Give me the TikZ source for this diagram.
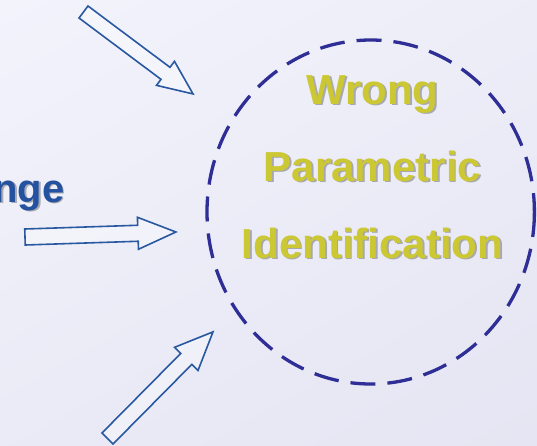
\documentclass[tikz,border=0pt]{standalone}
\usepackage{fontspec}
\setmainfont{Liberation Sans}
\usetikzlibrary{shadings}
\begin{document}
\definecolor{bgA}{RGB}{243,243,252}
\definecolor{bgB}{RGB}{229,229,243}
\definecolor{arrowblue}{RGB}{40,88,160}
\definecolor{ringblue}{RGB}{46,46,150}
\definecolor{olivetext}{RGB}{204,200,52}
\definecolor{labelblue}{RGB}{36,82,160}
\definecolor{textshade}{RGB}{168,168,176}
\tikzset{
  blockarrow/.style={draw=arrowblue, line width=1.6pt, line join=miter, fill=white, fill opacity=0.3},
  ring/.style={draw=ringblue, line width=3.3pt, dash pattern=on 25pt off 12pt},
  bigword/.style={font=\bfseries\fontsize{42}{42}\selectfont, anchor=base, inner sep=0pt},
  sideword/.style={font=\bfseries\fontsize{40}{40}\selectfont, anchor=base west, inner sep=0pt},
}
\begin{tikzpicture}[x=1pt,y=-1pt]
  % backdrop
  \path[use as bounding box] (0,0) rectangle (537,445);
  \shade[upper left=bgA, upper right=bgA!60!bgB, lower left=bgA!40!bgB, lower right=bgB]
    (0,0) rectangle (537,445);

  % dashed boundary of the central idea
  \coordinate (c) at (370.7,212);
  \draw[ring] (c) ellipse [x radius=163.7, y radius=172];

  % central label, with a soft drop shadow
  \foreach \name/\txt/\yb in {w/Wrong/104, p/Parametric/181, i/Identification/258}{
    \node[bigword, text=textshade] (\name-sh) at (374.3,\yb+1.8) {\txt};
    \node[bigword, text=olivetext] (\name) at (372.5,\yb) {\txt};
  }

  % partly hidden side label
  \node[sideword, text=textshade] (side-sh) at (-5.2,203.8) {nge};
  \node[sideword, text=labelblue] (side) at (-7,202) {nge};

  % block arrows pointing into the circle
  \coordinate (tailA) at (83.5,12);
  \coordinate (tailB) at (25,237);
  \coordinate (tailC) at (107.5,438.5);
  \begin{scope}[shift={(tailA)}, rotate=-36.8]
    \draw[blockarrow] (0,7.5) -- (102.4,7.5) -- (102.4,15) -- (136.8,0) -- (102.4,-15) -- (102.4,-7.5) -- (0,-7.5) -- cycle;
  \end{scope}
  \begin{scope}[shift={(tailB)}, rotate=1.9]
    \draw[blockarrow] (0,8) -- (113,8) -- (113,16) -- (151,0) -- (113,-16) -- (113,-8) -- (0,-8) -- cycle;
  \end{scope}
  \begin{scope}[shift={(tailC)}, rotate=45.3]
    \draw[blockarrow] (0,7.8) -- (112,7.8) -- (112,16.5) -- (150,0) -- (112,-16.5) -- (112,-7.8) -- (0,-7.8) -- cycle;
  \end{scope}
\end{tikzpicture}
\end{document}
